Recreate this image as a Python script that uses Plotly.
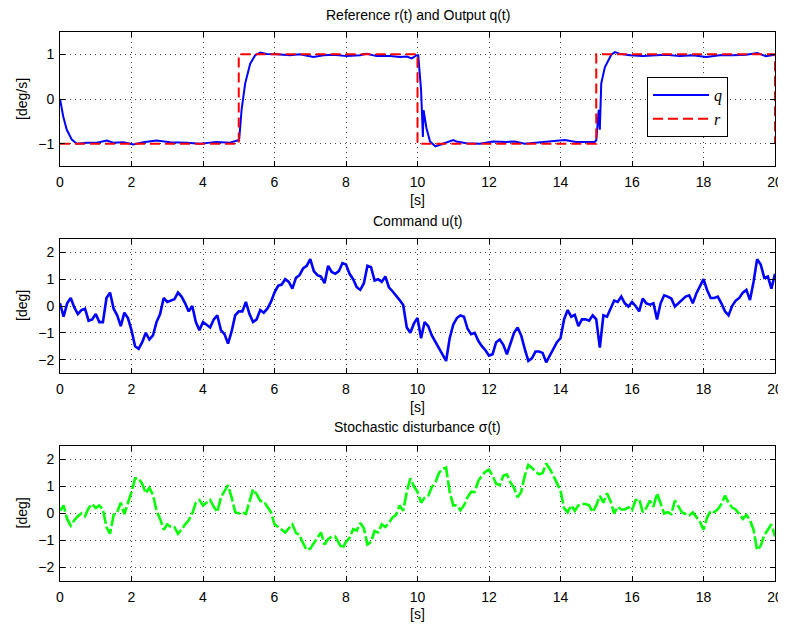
import plotly.graph_objects as go

# ---------------- data ----------------
# Reference r(t): piecewise-constant steps
r_time = [0, 5, 5, 10, 10, 15, 15, 20, 20]
r_vals = [-1, -1, 1, 1, -1, -1, 1, 1, -1]

# Output q(t)
q_time = [0.0, 0.09, 0.19, 0.33, 0.47, 0.75, 1.03, 1.31, 1.49, 1.77, 2.05, 2.33, 2.7, 3.08,
          3.54, 3.92, 4.38, 4.75, 4.96, 5.01, 5.08, 5.18, 5.32, 5.46, 5.6, 5.78, 6.06, 6.43,
          6.71, 7.09, 7.37, 7.65, 8.02, 8.39, 8.58, 8.86, 9.23, 9.51, 9.7, 9.84, 9.98, 10.02,
          10.1, 10.15, 10.17, 10.25, 10.35, 10.5, 10.65, 10.8, 11.0, 11.09, 11.37, 11.74,
          12.11, 12.49, 12.72, 13.0, 13.42, 13.79, 14.12, 14.44, 14.95, 15.0, 15.07, 15.1,
          15.14, 15.24, 15.33, 15.42, 15.52, 15.66, 15.94, 16.31, 16.68, 16.96, 17.33, 17.7,
          18.08, 18.45, 18.82, 19.19, 19.51, 19.74, 20.0]
q_vals = [0.0, -0.39, -0.69, -0.91, -1.0, -0.98, -0.98, -0.93, -0.98, -0.97, -1.02, -0.97,
          -0.93, -0.97, -0.98, -1.0, -0.96, -0.98, -0.93, -0.92, -0.24, 0.35, 0.79, 0.98, 1.04,
          1.01, 1.0, 0.98, 1.0, 0.94, 0.98, 0.99, 0.96, 0.98, 1.01, 0.96, 0.96, 0.94, 0.95,
          0.91, 0.98, 0.98, 0.2, -0.85, -0.25, -0.65, -0.95, -1.06, -1.02, -0.97, -0.92, -0.95,
          -0.99, -1.0, -0.95, -0.96, -0.95, -1.0, -0.97, -0.95, -0.92, -0.96, -0.96, -0.93,
          -0.24, -0.69, 0.35, 0.71, 0.87, 0.99, 1.05, 1.01, 0.98, 0.96, 0.98, 0.99, 0.96, 0.98,
          0.94, 0.98, 0.98, 0.99, 1.03, 0.96, 0.99]

# Sample times for u(t) and sigma(t): 0 .. 20 s every 0.1 s
t_step = 0.1
n_samples = 201

# Command u(t)
u_vals = [0.1, -0.4, 0.1, 0.3, -0.05, -0.3, -0.15, -0.1, -0.55, -0.5,
          -0.3, -0.6, -0.6, 0.3, 0.5, -0.1, -0.35, -0.75, -0.25, -0.45,
          -0.9, -1.5, -1.6, -1.35, -1.0, -1.25, -1.1, -0.6, -0.3, 0.3,
          0.15, 0.2, 0.25, 0.5, 0.35, 0.1, -0.2, 0.0, -0.6, -0.9,
          -0.6, -0.7, -0.8, -0.5, -0.35, -0.9, -1.05, -1.4, -0.95, -0.35,
          -0.2, -0.2, 0.15, -0.3, -0.6, -0.5, -0.15, -0.25, -0.1, 0.15,
          0.5, 0.75, 0.8, 1.0, 0.9, 0.65, 1.05, 1.15, 1.4, 1.5,
          1.75, 1.3, 1.15, 1.1, 0.85, 1.5, 1.27, 1.2, 1.3, 1.6,
          1.55, 1.2, 1.0, 0.7, 0.6, 0.85, 1.5, 1.45, 0.95, 1.0,
          0.9, 1.1, 0.7, 0.55, 0.4, 0.22, 0.04, -0.8, -1.0, -0.65,
          -0.45, -1.2, -0.6, -0.75, -1.1, -1.35, -1.6, -1.85, -2.05, -1.2,
          -0.7, -0.45, -0.35, -0.4, -0.85, -1.05, -1.0, -1.3, -1.5, -1.65,
          -1.85, -1.8, -1.35, -1.25, -1.45, -1.8, -1.4, -1.0, -0.8, -1.1,
          -1.6, -2.05, -1.95, -1.7, -1.7, -1.75, -2.1, -1.85, -1.6, -1.35,
          -1.2, -0.5, -0.15, -0.4, -0.33, -0.75, -0.5, -0.5, -0.55, -0.35,
          -0.5, -1.55, -0.35, -0.4, -0.1, 0.2, 0.15, 0.35, 0.1, -0.02,
          0.15, 0.0, -0.2, 0.28, 0.1, 0.05, 0.1, -0.5, 0.1, 0.4,
          0.35, 0.28, -0.02, 0.1, 0.2, 0.35, 0.4, 0.1, 0.47, 0.75,
          1.0, 0.6, 0.3, 0.3, 0.35, 0.1, -0.2, -0.35, 0.0, 0.2,
          0.3, 0.5, 0.6, 0.22, 0.9, 1.75, 1.55, 1.05, 1.1, 0.65,
          1.2]

# Stochastic disturbance sigma(t)
sigma_vals = [0.1, 0.3, -0.2, -0.45, -0.25, -0.1, 0.0, -0.1, 0.2, 0.35,
              0.2, 0.3, 0.15, -0.5, -0.75, -0.05, 0.05, 0.4, -0.02, 0.35,
              0.8, 1.3, 1.3, 1.1, 0.75, 0.95, 0.7, 0.1, -0.2, -0.6,
              -0.4, -0.5, -0.5, -0.75, -0.6, -0.4, -0.25, 0.0, 0.4, 0.5,
              0.3, 0.4, 0.5, 0.25, 0.05, 0.6, 0.85, 1.05, 0.6, 0.05,
              0.0, 0.04, -0.02, 0.45, 0.9, 0.72, 0.47, 0.45, 0.25, 0.05,
              -0.4, -0.5, -0.57, -0.7, -0.55, -0.4, -0.72, -0.8, -1.1, -1.35,
              -1.3, -1.1, -0.9, -0.7, -1.15, -0.95, -0.85, -0.85, -1.1, -1.3,
              -1.05, -0.9, -0.58, -0.63, -0.35, -0.55, -1.15, -1.05, -0.65, -0.7,
              -0.4, -0.5, -0.35, -0.15, -0.05, 0.3, 0.1, 0.8, 1.3, 1.0,
              0.8, 0.4, 0.58, 0.66, 0.97, 1.15, 1.5, 1.65, 1.7, 0.8,
              0.3, 0.3, 0.12, 0.3, 0.6, 0.8, 0.8, 1.2, 1.4, 1.55,
              1.62, 1.4, 1.1, 1.05, 1.4, 1.45, 1.15, 0.95, 0.6, 0.8,
              1.4, 1.8, 1.7, 1.55, 1.45, 1.5, 1.85, 1.65, 1.4, 1.1,
              0.85, 0.2, 0.05, 0.3, 0.1, 0.3, 0.35, 0.35, 0.3, 0.05,
              0.3, 0.65, 0.4, 0.75, 0.45, 0.0, 0.25, 0.15, 0.15, 0.23,
              0.12, 0.5, 0.54, 0.05, 0.2, 0.48, 0.25, 0.75, 0.4, 0.0,
              0.05, -0.02, 0.48, 0.28, 0.04, -0.02, -0.07, 0.04, -0.15, -0.3,
              -0.6, -0.15, 0.1, 0.05, 0.15, 0.35, 0.66, 0.4, 0.22, 0.15,
              -0.02, -0.2, -0.05, -0.25, -0.6, -1.35, -1.2, -0.8, -0.6, -0.4,
              -0.85]

x_ticks = [0, 2, 4, 6, 8, 10, 12, 14, 16, 18, 20]
y_ticks_top = [-1, 0, 1]
y_ticks_low = [-2, -1, 0, 1, 2]

titles = ["Reference r(t) and Output q(t)", "Command u(t)", "Stochastic disturbance σ(t)"]
x_label = "[s]"
y_labels = ["[deg/s]", "[deg]", "[deg]"]

# ---------------- figure ----------------
# The page body adds an 8 px margin, so the figure is laid out 8 px smaller
# and every target pixel position is shifted by that offset.
OFF = 8
W, H = 786 - OFF, 629 - OFF
time = [round(i * t_step, 1) for i in range(n_samples)]


def px(x):
    return (x - OFF) / W


def py(y):
    return 1 - (y - OFF) / H


fig = go.Figure()
fig.add_trace(go.Scatter(x=q_time, y=q_vals, mode="lines", name="<i>q</i>",
                         line=dict(color="#0000FF", width=2), xaxis="x", yaxis="y"))
fig.add_trace(go.Scatter(x=r_time, y=r_vals, mode="lines", name="<i>r</i>",
                         line=dict(color="#FF0000", width=2, dash="10px,5px"),
                         xaxis="x", yaxis="y"))
fig.add_trace(go.Scatter(x=time, y=u_vals, mode="lines", showlegend=False,
                         line=dict(color="#0000FF", width=2.6), xaxis="x2", yaxis="y2"))
fig.add_trace(go.Scatter(x=time, y=sigma_vals, mode="lines", showlegend=False,
                         line=dict(color="#00FF00", width=2.6, dash="13px,3px"),
                         xaxis="x3", yaxis="y3"))

FONT = "Liberation Sans, Arial, Helvetica, sans-serif"
x_dom = [px(60), px(775)]
y_doms = [(32, 166), (239, 373), (446, 581)]

common = dict(showline=True, linecolor="black", linewidth=1, mirror="ticks",
              ticks="inside", ticklen=5, tickcolor="black", automargin=False,
              showgrid=True, gridcolor="#444444", gridwidth=1, griddash="1px,4px",
              zeroline=False, tickfont=dict(family=FONT, size=14, color="black"))

layout = dict(width=W, height=H, margin=dict(l=0, r=0, t=0, b=0, autoexpand=False),
              plot_bgcolor="white", paper_bgcolor="white",
              font=dict(family=FONT, size=14, color="black"))
for i, (top, bot) in enumerate(y_doms):
    sfx = "" if i == 0 else str(i + 1)
    layout["xaxis" + sfx] = dict(domain=x_dom, range=[0, 20], tickvals=x_ticks,
                                 anchor="y" + sfx, ticklabelstandoff=3, **common)
    layout["yaxis" + sfx] = dict(domain=[py(bot), py(top)],
                                 range=[-1.5, 1.5] if i == 0 else [-2.5, 2.5],
                                 tickvals=y_ticks_top if i == 0 else y_ticks_low,
                                 anchor="x" + sfx, ticklabelstandoff=2, **common)
fig.update_layout(**layout)

ann = []
title_y = [15, 221, 427]
xlabel_y = [200, 407, 614]
for i in range(3):
    ann.append(dict(text=titles[i], x=px(417.5), y=py(title_y[i]), xref="paper", yref="paper",
                    showarrow=False, xanchor="center", yanchor="middle",
                    font=dict(family=FONT, size=14, color="black")))
    ann.append(dict(text=x_label, x=px(417.5), y=py(xlabel_y[i]), xref="paper", yref="paper",
                    showarrow=False, xanchor="center", yanchor="middle",
                    font=dict(family=FONT, size=14, color="black")))
    top, bot = y_doms[i]
    ann.append(dict(text=y_labels[i], x=px(22), y=py((top + bot) / 2), xref="paper",
                    yref="paper", showarrow=False, xanchor="center", yanchor="middle",
                    textangle=-90, font=dict(family=FONT, size=14, color="black")))
fig.update_layout(annotations=ann)

fig.update_layout(legend=dict(x=px(647), y=py(77), xanchor="left", yanchor="top",
                              bgcolor="white", bordercolor="black", borderwidth=1,
                              font=dict(family="Liberation Serif, Times New Roman, serif",
                                        size=16, color="black"),
                              itemwidth=56, tracegroupgap=0))

fig.write_html("out.html")
